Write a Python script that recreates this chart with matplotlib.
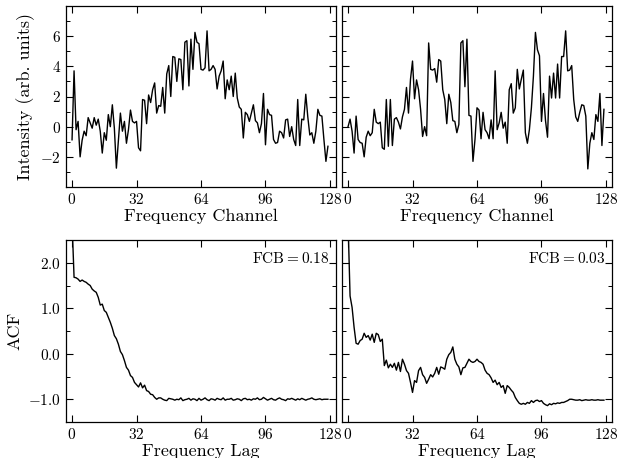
import numpy as np
import matplotlib
matplotlib.use("Agg")
import matplotlib.pyplot as plt
from matplotlib.ticker import FixedLocator, MultipleLocator, FuncFormatter

# spectrum intensities, 128 channels each
spec_a = [-0.87, 3.7, -0.2, 0.35, -2.0, -0.9, -0.3, -0.6, 0.6, 0.25,
          -0.1, 0.6, 0.1, 0.5, -0.3, -1.75, -0.4, -0.9, 0.8, 0.0,
          1.45, -0.1, -2.75, -0.9, 0.9, -0.3, 0.35, -1.1, -0.2, 1.1,
          0.35, 0.25, 0.35, -1.4, -1.6, 1.8, 1.75, 0.2, 2.1, 1.6,
          2.45, 2.9, 0.9, 1.4, 1.35, 2.6, 0.9, 3.5, 4.05, 2.0,
          4.65, 4.6, 3.0, 4.5, 4.45, 2.45, 5.6, 5.7, 2.7, 5.8,
          3.8, 6.25, 5.6, 5.5, 3.8, 3.75, 3.9, 6.35, 3.7, 3.8,
          4.05, 3.8, 2.5, 3.35, 3.7, 4.35, 1.85, 3.1, 2.45, 3.35,
          2.0, 3.55, 1.9, 1.3, 1.15, -0.75, 0.95, 0.8, 0.35, 0.9,
          1.45, 0.4, 0.25, -0.4, 0.2, 2.2, -1.2, 1.15, 0.8, 0.75,
          -0.85, -1.1, -1.05, -0.3, -0.4, -0.75, 0.45, 0.5, -0.65, 0.0,
          -0.85, -1.25, 1.8, -1.25, 0.5, 0.45, 2.15, 0.65, -0.55, -0.4,
          -1.1, -0.3, 1.15, 0.75, 0.7, -0.85, -2.3, -1.3]
spec_b = [0.0, 0.5, -0.3, -1.75, 0.7, -0.85, -1.05, -1.1, -2.0, -0.7,
          -0.3, -0.6, -0.4, 1.15, 0.3, 0.2, 0.3, -1.4, -1.5, 1.8,
          -1.3, 1.8, -1.25, 0.5, 0.6, 0.3, -0.15, 0.65, 1.15, 2.6,
          0.9, 3.15, 4.35, 1.85, 3.1, 2.45, 1.15, -0.65, 0.0, -0.6,
          5.55, 3.8, 3.75, 3.85, 2.95, 4.45, 4.35, 2.45, 1.8, 0.2,
          2.15, 1.6, 0.4, 0.35, -0.4, 0.15, 5.55, 5.7, 2.65, 5.8,
          0.75, 0.7, -2.3, -0.85, 1.25, 1.1, -0.8, 0.95, -0.2, -0.4,
          -0.8, 0.45, -0.8, 3.7, -0.2, 0.25, 0.95, -0.1, 0.3, -1.1,
          2.45, 2.85, 0.9, 1.25, 3.8, 2.5, 3.15, 3.75, -0.4, -1.1,
          -0.2, 1.25, 3.35, 6.25, 5.1, 4.7, 0.35, 2.2, 0.4, -0.7,
          3.35, 1.9, 3.55, 1.9, 4.15, 1.9, 4.65, 4.65, 6.35, 3.7,
          3.75, 4.05, 1.8, 0.65, 0.35, 0.95, 1.45, 1.4, 0.7, -2.8,
          -1.1, -0.4, -0.85, 0.8, 0.35, 2.2, -1.25, 1.15]

# autocorrelation of each spectrum
acf_a = [2.9, 1.68, 1.67, 1.64, 1.59, 1.62, 1.59, 1.57, 1.53, 1.5,
         1.42, 1.38, 1.35, 1.24, 1.07, 1.09, 0.95, 0.91, 0.8, 0.69,
         0.56, 0.4, 0.33, 0.21, 0.05, -0.02, -0.15, -0.3, -0.36, -0.48,
         -0.52, -0.63, -0.68, -0.73, -0.64, -0.75, -0.69, -0.81, -0.83, -0.89,
         -0.9, -0.96, -1.0, -0.97, -0.97, -1.0, -1.02, -1.03, -0.98, -0.99,
         -1.0, -1.02, -1.0, -1.01, -0.97, -1.03, -1.01, -1.0, -0.98, -1.02,
         -0.99, -1.0, -1.03, -0.98, -1.02, -1.0, -0.97, -1.01, -1.03, -0.99,
         -1.0, -1.02, -0.98, -1.0, -1.01, -0.97, -1.02, -1.0, -1.0, -0.98,
         -1.02, -1.01, -0.99, -1.0, -1.03, -0.99, -0.98, -1.01, -1.0, -1.02,
         -0.99, -1.0, -0.97, -1.01, -1.0, -0.96, -0.99, -1.02, -1.0, -0.98,
         -1.01, -1.02, -0.99, -0.97, -1.0, -1.01, -1.03, -0.99, -1.0, -0.98,
         -1.0, -1.02, -0.99, -1.01, -0.98, -1.0, -1.02, -1.0, -0.99, -0.97,
         -1.0, -1.01, -1.0, -0.99, -1.01, -1.0, -1.0, -1.0]
acf_b = [2.9, 1.27, 1.02, 0.58, 0.23, 0.21, 0.29, 0.32, 0.45, 0.36,
         0.4, 0.3, 0.43, 0.25, 0.45, 0.42, 0.27, 0.32, -0.26, -0.14,
         -0.31, -0.23, -0.3, -0.21, -0.36, -0.19, -0.39, -0.12, -0.23, -0.37,
         -0.43, -0.63, -0.85, -0.59, -0.63, -0.37, -0.3, -0.46, -0.52, -0.65,
         -0.56, -0.46, -0.51, -0.43, -0.3, -0.45, -0.29, -0.31, -0.34, -0.12,
         -0.02, 0.03, 0.15, -0.12, -0.23, -0.29, -0.46, -0.31, -0.3, -0.21,
         -0.12, -0.17, -0.19, -0.17, -0.12, -0.17, -0.19, -0.23, -0.36, -0.43,
         -0.46, -0.53, -0.63, -0.58, -0.68, -0.63, -0.74, -0.7, -0.87, -0.7,
         -0.74, -0.8, -0.85, -0.96, -1.03, -1.09, -1.11, -1.09, -1.11, -1.07,
         -1.09, -1.03, -1.07, -1.03, -1.02, -1.05, -1.03, -1.09, -1.12, -1.14,
         -1.1, -1.12, -1.09, -1.1, -1.08, -1.09, -1.07, -1.07, -1.05, -1.03,
         -1.0, -1.0, -1.01, -1.02, -1.02, -1.01, -1.03, -1.02, -1.01, -1.02,
         -1.02, -1.01, -1.02, -1.02, -1.01, -1.02, -1.02, -1.02]
fcb_vals = [0.18, 0.03]

plt.rcParams['font.family'] = 'serif'
plt.rcParams['font.serif'] = ['cmr10']
plt.rcParams['mathtext.fontset'] = 'cm'
plt.rcParams['axes.formatter.use_mathtext'] = True
plt.rcParams['axes.unicode_minus'] = True

fig = plt.figure(figsize=(6.17, 4.58), dpi=100)
W, H = 617.0, 458.0


def box(l, r, t, b):
    return [l / W, 1 - b / H, (r - l) / W, (b - t) / H]


axes = [[fig.add_axes(box(66, 336, 6, 187)), fig.add_axes(box(342, 612, 6, 187))],
        [fig.add_axes(box(66, 336, 240, 422)), fig.add_axes(box(342, 612, 240, 422))]]

chan = np.arange(128)
lw = 1.0


def style(ax):
    ax.set_xlim(-3, 131)
    ax.xaxis.set_major_locator(FixedLocator([0, 32, 64, 96, 128]))
    ax.tick_params(which='both', direction='in', top=True, right=True, labelsize=11)
    ax.tick_params(which='major', length=5, width=0.8)
    ax.tick_params(which='minor', length=3, width=0.7)
    ax.xaxis.set_major_formatter(FuncFormatter(lambda v, p: '$%d$' % v))
    for s in ax.spines.values():
        s.set_linewidth(0.9)


for j, spec in enumerate([spec_a, spec_b]):
    ax = axes[0][j]
    ax.plot(chan, spec, color='black', lw=lw)
    style(ax)
    ax.set_ylim(-4, 8)
    ax.yaxis.set_major_locator(FixedLocator([-2, 0, 2, 4, 6]))
    ax.yaxis.set_minor_locator(MultipleLocator(1))
    ax.yaxis.set_major_formatter(FuncFormatter(lambda v, p: '$%d$' % v))
    ax.set_xlabel('Frequency Channel', fontsize=13, labelpad=1)
    if j == 1:
        ax.tick_params(labelleft=False)

for j, acf in enumerate([acf_a, acf_b]):
    ax = axes[1][j]
    ax.plot(chan, acf, color='black', lw=lw)
    style(ax)
    ax.set_ylim(-1.5, 2.5)
    ax.yaxis.set_major_locator(FixedLocator([-1, 0, 1, 2]))
    ax.yaxis.set_minor_locator(MultipleLocator(0.5))
    ax.yaxis.set_major_formatter(FuncFormatter(lambda v, p: '$%.1f$' % v))
    ax.set_xlabel('Frequency Lag', fontsize=13, labelpad=1)
    ax.text(0.975, 0.94, 'FCB$=$%.2f' % fcb_vals[j], transform=ax.transAxes,
            ha='right', va='top', fontsize=11)
    if j == 1:
        ax.tick_params(labelleft=False)

axes[0][0].set_ylabel('Intensity (arb. units)', fontsize=13)
axes[1][0].set_ylabel('ACF', fontsize=13)

fig.savefig('out.png', dpi=100)
